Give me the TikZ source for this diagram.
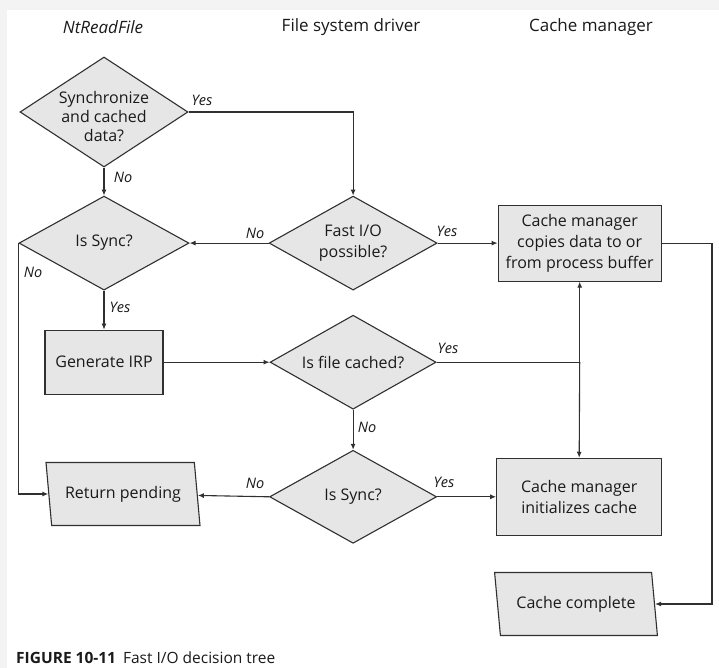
\documentclass[tikz,border=0pt]{standalone}
\usepackage{fontspec}
\setmainfont{Open Sans}
\usepackage{xcolor}
\definecolor{shapefill}{HTML}{E6E6E6}
\definecolor{lineclr}{HTML}{303030}
\definecolor{txt}{HTML}{1A1A1A}
\definecolor{margin}{HTML}{F3F3F3}
\usetikzlibrary{arrows.meta,positioning,shapes.geometric}
\tikzset{
  dec/.style  = {diamond, aspect=1.78, draw=lineclr, fill=shapefill, line width=1.1pt,
                 inner sep=0pt, minimum width=168pt, minimum height=94pt,
                 align=center, font=\fontsize{16}{21}\selectfont, text=txt},
  box/.style  = {rectangle, draw=lineclr, fill=shapefill, line width=1.1pt,
                 minimum width=163pt, minimum height=76pt,
                 align=center, font=\fontsize{16}{21}\selectfont, text=txt},
  io/.style   = {trapezium, trapezium left angle=106, trapezium right angle=74,
                 trapezium stretches=true, draw=lineclr, fill=shapefill,
                 line width=1.1pt, inner sep=0pt, minimum width=154pt,
                 minimum height=63pt, align=center,
                 font=\fontsize{16}{21}\selectfont, text=txt},
  lbl/.style  = {font=\fontsize{14.5}{15}\selectfont\itshape, text=txt, inner sep=0pt},
  head/.style = {font=\fontsize{17}{20}\selectfont, text=txt},
  line/.style = {line width=1.1pt, draw=lineclr},
  arr/.style  = {line, -{Latex[length=6pt,width=5pt]}}
}
\begin{document}
\begin{tikzpicture}[x=1pt,y=1pt]
  \useasboundingbox (0,0) rectangle (719,-668);
  \fill[margin] (0,0) rectangle (719,-668);
  \fill[white] (7,-10) rectangle (719,-668);

  % column heads
  \node[head, font=\fontsize{17}{20}\selectfont\itshape] (hNt) at (103,-27) {NtReadFile};
  \node[head] (hFsd) at (351,-27) {File system driver};
  \node[head] (hCm)  at (591,-27) {Cache manager};

  % decisions and actions
  \node[dec, minimum height=110pt] (syncA) at (104,-112)
    {\smash{\raisebox{-9pt}{\parbox[c]{100pt}{\centering\fontsize{16}{19}\selectfont Synchronize\\and cached\\data?}}}};
  \node[dec, minimum width=170pt, below=28pt of syncA] (isSync1) {Is Sync?};
  \node[dec, right=79pt of isSync1]  (fastio) {Fast I/O\\possible?};
  \node[box, right=60pt of fastio]   (ccopy)  {Cache manager\\copies data to or\\from process buffer};
  \node[box, below=39pt of isSync1, minimum width=118pt, minimum height=64pt] (irp) {Generate IRP};
  \node[dec, below=24pt of fastio, minimum width=166pt]  (cached) {Is file cached?};
  \node[dec, below=40pt of cached, minimum width=167pt, minimum height=93pt] (isSync2) {Is Sync?};
  \node[box, right=59pt of isSync2, minimum width=165pt, minimum height=77pt] (initc) {Cache manager\\initializes cache};
  \node[io] (pending) at (123,-494) {Return pending};
  \node[io, minimum width=163pt] (done) at (576,-604) {Cache complete};

  % branch labels
  \node[lbl] (yA) at (202,-100) {Yes};
  \node[lbl] (nA) at (123,-177) {No};
  \node[lbl] (nB) at (255,-233) {No};
  \node[lbl] (yB) at (447,-231) {Yes};
  \node[lbl] (nC) at (33,-272)  {No};
  \node[lbl] (yC) at (120,-307) {Yes};
  \node[lbl] (yF) at (448,-348) {Yes};
  \node[lbl] (nF) at (367,-427) {No};
  \node[lbl] (nH) at (255,-483) {No};
  \node[lbl] (yH) at (444,-482) {Yes};

  % connectors
  \coordinate (jn) at (ccopy.south |- cached.east);
  \coordinate (rail) at (712,0);
  \draw[arr] (syncA.east) -| (fastio.north);
  \draw[arr] (syncA.south) -- (isSync1.north);
  \draw[arr] (fastio.west) -- (isSync1.east);
  \draw[arr] (fastio.east) -- (ccopy.west);
  \draw[arr] (isSync1.south) -- (irp.north);
  \draw[arr] (isSync1.west) |- (pending);
  \draw[arr] (irp.east) -- (cached.west);
  \draw[arr] (cached.south) -- (isSync2.north);
  \draw[arr] (isSync2.west) -- (pending);
  \draw[arr] (isSync2.east) -- (initc.west);
  \draw[line] (cached.east) -- (jn);
  \draw[arr] (jn) -- (ccopy.south);
  \draw[arr] (jn) -- (initc.north);
  \draw[arr] (ccopy.east) -- (ccopy.east -| rail) |- (done);

  % caption
  \node[anchor=west, inner sep=0pt, text=txt, font=\fontsize{15.5}{17}\selectfont] (cap) at (16,-658)
    {\textbf{FIGURE 10-11}\hspace{7pt}Fast I/O decision tree};
\end{tikzpicture}
\end{document}
